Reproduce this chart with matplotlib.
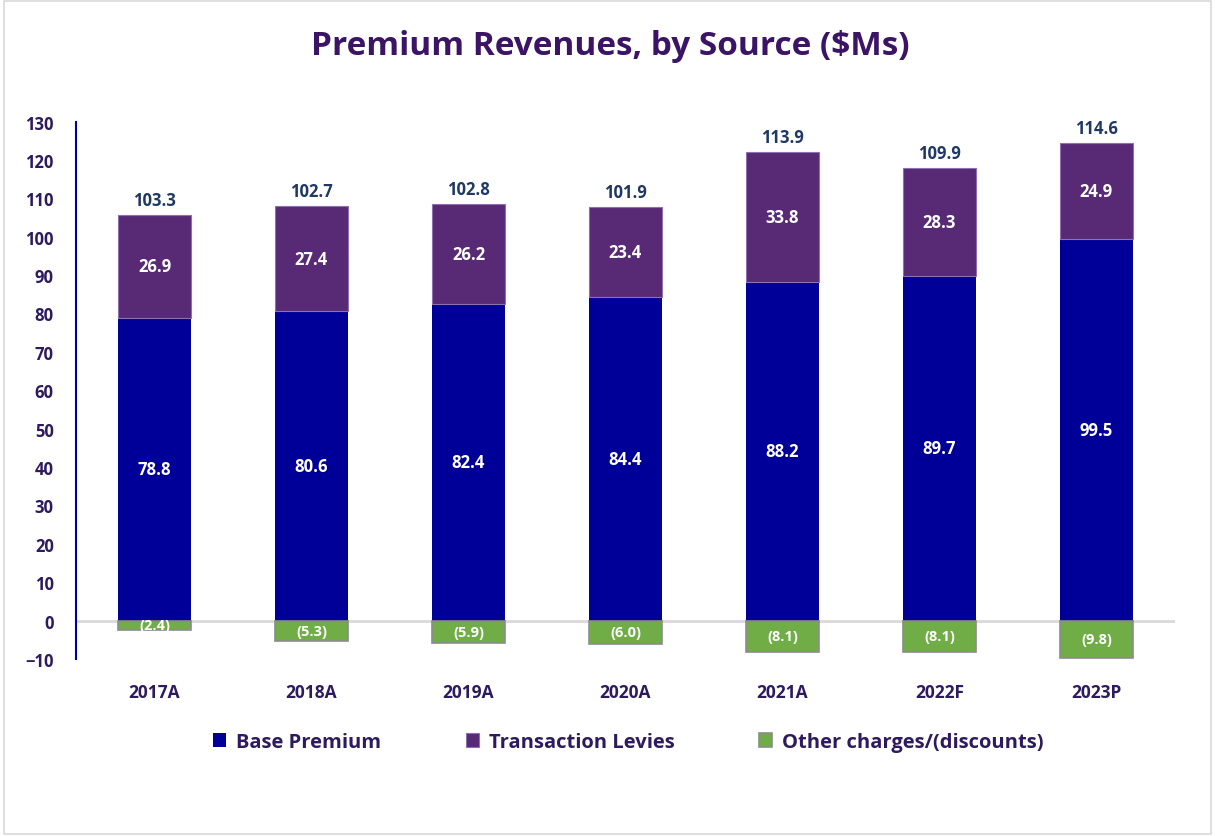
import matplotlib.pyplot as plt
from matplotlib.patches import Rectangle
import numpy as np

# data ($Ms)
years = ["2017A", "2018A", "2019A", "2020A", "2021A", "2022F", "2023P"]
base_premium = [78.8, 80.6, 82.4, 84.4, 88.2, 89.7, 99.5]
transaction_levies = [26.9, 27.4, 26.2, 23.4, 33.8, 28.3, 24.9]
other_charges = [-2.4, -5.3, -5.9, -6.0, -8.1, -8.1, -9.8]
totals = [103.3, 102.7, 102.8, 101.9, 113.9, 109.9, 114.6]

plt.rcParams["font.family"] = ["Open Sans", "DejaVu Sans"]
plt.rcParams["font.weight"] = "bold"

c_base = "#000099"
c_levy = "#582A76"
c_other = "#70AD47"
c_text = "#2E1A5E"
c_total = "#1F3864"

fig = plt.figure(figsize=(12.15, 8.37), dpi=100)
ax = fig.add_axes([0.0626, 0.2115, 0.9044, 0.6421])

x = np.arange(len(years))
w = 0.46
b1 = ax.bar(x, base_premium, w, color=c_base, label="Base Premium", zorder=3)
b2 = ax.bar(x, transaction_levies, w, bottom=base_premium, color=c_levy,
            edgecolor="#8E6FAF", linewidth=0.8, label="Transaction Levies", zorder=3)
b3 = ax.bar(x, other_charges, w, color=c_other, edgecolor="#8C8C8C",
            linewidth=1.2, label="Other charges/(discounts)", zorder=3)

for i in range(len(years)):
    ax.text(x[i], base_premium[i] / 2, f"{base_premium[i]:.1f}", ha="center", va="center",
            color="white", fontsize=12, fontweight="bold", zorder=4)
    ax.text(x[i], base_premium[i] + transaction_levies[i] / 2, f"{transaction_levies[i]:.1f}",
            ha="center", va="center", color="white", fontsize=12, fontweight="bold", zorder=4)
    ax.text(x[i], other_charges[i] / 2, f"({abs(other_charges[i]):.1f})", ha="center",
            va="center", color="white", fontsize=10.5, fontweight="bold", zorder=4)
    ax.text(x[i], base_premium[i] + transaction_levies[i] + 1.5, f"{totals[i]:.1f}",
            ha="center", va="bottom", color=c_total, fontsize=12, fontweight="bold", zorder=4)

ax.set_xlim(-0.5, 6.5)
ax.set_ylim(-10, 130)
ax.set_yticks(range(-10, 131, 10))
ax.set_xticks(x)
ax.set_xticklabels(years)
ax.tick_params(axis="both", length=0, labelcolor=c_text, labelsize=12)
ax.tick_params(axis="x", pad=17, labelsize=12.5)
ax.tick_params(axis="y", pad=16)
for lab in ax.get_yticklabels() + ax.get_xticklabels():
    lab.set_fontweight("bold")

ax.axhline(0, color="#D9D9D9", linewidth=2, zorder=2)
for s in ["top", "right", "bottom"]:
    ax.spines[s].set_visible(False)
ax.spines["left"].set_color("#0000A0")
ax.spines["left"].set_linewidth(1.5)

fig.text(0.502, 0.945, "Premium Revenues, by Source (\\$Ms)", ha="center", va="center",
         fontsize=24, fontweight="bold", color="#3B1466")

leg = fig.legend(handles=[b1, b2, b3], loc="center", bbox_to_anchor=(0.517, 0.112),
                 ncol=3, frameon=False, fontsize=14.5, handlelength=0.65, handleheight=0.65,
                 columnspacing=4.2, handletextpad=0.5)
for t in leg.get_texts():
    t.set_color(c_text)
    t.set_fontweight("bold")

fig.patches.append(Rectangle((0.003, 0.002), 0.994, 0.996, transform=fig.transFigure,
                             fill=False, edgecolor="#D9D9D9", linewidth=1.2))

fig.savefig("out.png", dpi=100)
